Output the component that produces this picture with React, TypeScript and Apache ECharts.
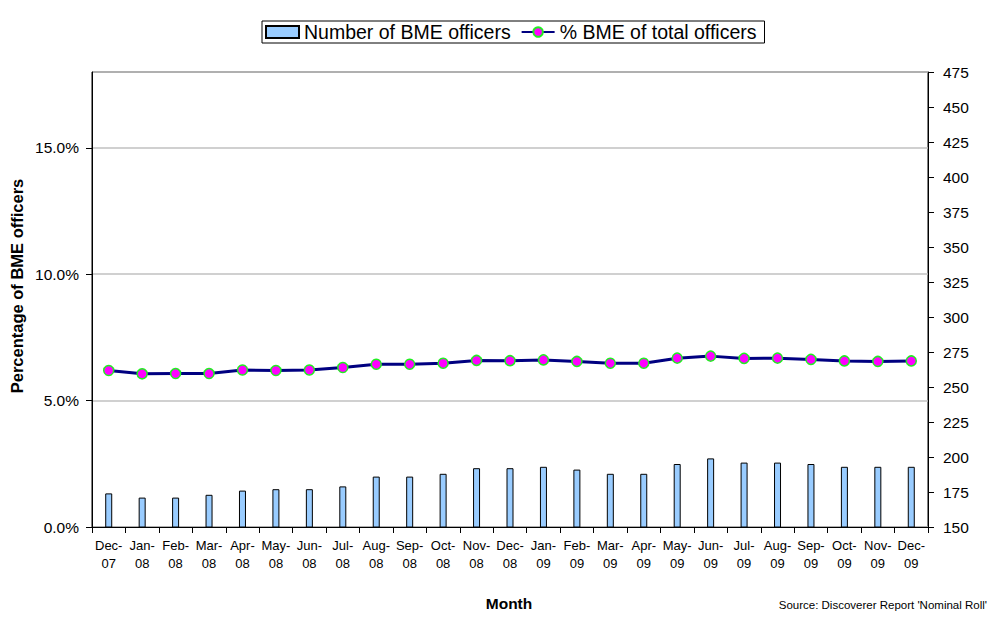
import React, { useEffect, useRef } from "react";
import * as echarts from "echarts";

// Month labels (two-line: month / year)
const months = [
  "Dec-07", "Jan-08", "Feb-08", "Mar-08", "Apr-08", "May-08", "Jun-08", "Jul-08",
  "Aug-08", "Sep-08", "Oct-08", "Nov-08", "Dec-08", "Jan-09", "Feb-09", "Mar-09",
  "Apr-09", "May-09", "Jun-09", "Jul-09", "Aug-09", "Sep-09", "Oct-09", "Nov-09", "Dec-09",
];

// Headcount of BME officers (right axis)
const bmeOfficers = [
  174, 171, 171, 173, 176, 177, 177, 179, 186, 186, 188, 192, 192,
  193, 191, 188, 188, 195, 199, 196, 196, 195, 193, 193, 193,
];

// BME share of all officers, in percent (left axis)
const bmePercent = [
  6.19, 6.06, 6.07, 6.07, 6.21, 6.19, 6.21, 6.31, 6.44, 6.44, 6.48, 6.59, 6.58,
  6.61, 6.55, 6.48, 6.48, 6.68, 6.76, 6.67, 6.68, 6.63, 6.57, 6.55, 6.57,
];

const FONT = "Arial, 'Liberation Sans', sans-serif";

export default function App() {
  const ref = useRef<HTMLDivElement>(null);

  useEffect(() => {
    if (!ref.current) return;
    const chart = echarts.init(ref.current, null, { renderer: "svg" });
    chart.setOption({
      animation: false,
      backgroundColor: "#fff",
      textStyle: { fontFamily: FONT, color: "#000" },
      grid: {
        left: 92,
        right: 65,
        top: 72,
        bottom: 91,
        show: true,
        borderColor: "#000",
        borderWidth: 1,
      },
      legend: {
        left: 262,
        top: 21,
        padding: [1, 8, 1, 3],
        borderColor: "#000",
        borderWidth: 1,
        itemWidth: 33,
        itemHeight: 12,
        itemGap: 10,
        textStyle: { fontFamily: FONT, fontSize: 19.5, color: "#000", padding: [0, 0, 0, 0] },
        data: [
          { name: "Number of BME officers", icon: "rect" },
          { name: "% BME of total officers" },
        ],
      },
      xAxis: {
        type: "category",
        data: months,
        boundaryGap: true,
        axisLine: { lineStyle: { color: "#000", width: 1 } },
        axisTick: { show: true, length: 6, lineStyle: { color: "#000" } },
        axisLabel: {
          interval: 0,
          margin: 9,
          fontSize: 13,
          lineHeight: 18,
          color: "#000",
          fontFamily: FONT,
          formatter: (v: string) => {
            const [m, y] = v.split("-");
            return `${m}-\n${y}`;
          },
        },
      },
      yAxis: [
        {
          type: "value",
          min: 0,
          max: 18,
          interval: 5,
          position: "left",
          axisLine: { show: true, lineStyle: { color: "#000", width: 1 } },
          axisTick: { show: true, length: 6, lineStyle: { color: "#000" } },
          splitLine: { show: true, lineStyle: { color: "#c0c0c0", width: 1.5 } },
          axisLabel: {
            showMaxLabel: false,
            margin: 13,
            fontSize: 15.5,
            color: "#000",
            fontFamily: FONT,
            formatter: (v: number) => v.toFixed(1) + "%",
          },
        },
        {
          type: "value",
          min: 150,
          max: 475,
          interval: 25,
          position: "right",
          axisLine: { show: true, lineStyle: { color: "#000", width: 1 } },
          axisTick: { show: true, length: 6, lineStyle: { color: "#000" } },
          splitLine: { show: false },
          axisLabel: { margin: 15, fontSize: 15.5, color: "#000", fontFamily: FONT },
        },
      ],
      series: [
        {
          name: "Number of BME officers",
          type: "bar",
          yAxisIndex: 1,
          data: bmeOfficers,
          barWidth: 7,
          itemStyle: { color: "#99ccff", borderColor: "#000", borderWidth: 1 },
        },
        {
          name: "% BME of total officers",
          type: "line",
          yAxisIndex: 0,
          data: bmePercent,
          symbol: "circle",
          symbolSize: 10,
          lineStyle: { color: "#000080", width: 3 },
          itemStyle: { color: "#ff00ff", borderColor: "#22ee22", borderWidth: 1.5 },
        },
      ],
      graphic: [
        {
          type: "text",
          x: 17,
          y: 286,
          rotation: Math.PI / 2,
          style: {
            text: "Percentage of BME officers",
            font: `bold 16.5px ${FONT}`,
            fill: "#000",
            textAlign: "center",
            textVerticalAlign: "middle",
          },
        },
        {
          type: "text",
          x: 509,
          y: 603,
          style: {
            text: "Month",
            font: `bold 15.5px ${FONT}`,
            fill: "#000",
            textAlign: "center",
            textVerticalAlign: "middle",
          },
        },
        {
          type: "text",
          x: 987,
          y: 605,
          style: {
            text: "Source: Discoverer Report 'Nominal Roll'",
            font: `11.5px ${FONT}`,
            fill: "#000",
            textAlign: "right",
            textVerticalAlign: "middle",
          },
        },
      ],
    });
    return () => chart.dispose();
  }, []);

  return (
    <div style={{ position: "fixed", left: 0, top: 0, width: 993, height: 618, background: "#fff" }}>
      <div ref={ref} style={{ width: 993, height: 618 }} />
    </div>
  );
}
